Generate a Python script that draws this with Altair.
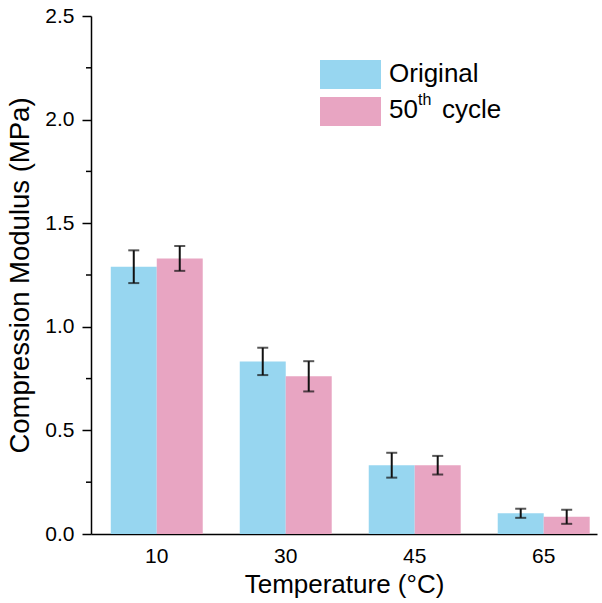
import altair as alt
import pandas as pd

temps = ["10", "30", "45", "65"]
series_names = ["Original", "50th cycle"]
original_mean = [1.29, 0.833, 0.332, 0.10]
original_err = [0.079, 0.066, 0.06, 0.022]
cycle_mean = [1.33, 0.761, 0.332, 0.083]
cycle_err = [0.06, 0.073, 0.045, 0.034]
colors = ["#97D6F0", "#E8A5C2"]
y_ticks_major = [0.0, 0.5, 1.0, 1.5, 2.0, 2.5]
y_ticks_minor = [0.25, 0.75, 1.25, 1.75, 2.25]

FONT = "Liberation Sans"

rows = []
for s, means, errs in [(series_names[0], original_mean, original_err),
                       (series_names[1], cycle_mean, cycle_err)]:
    for t, m, e in zip(temps, means, errs):
        rows.append({"temp": t, "series": s, "value": m, "err": e})
df = pd.DataFrame(rows)

base = alt.Chart(df).transform_calculate(
    low="datum.value - datum.err", high="datum.value + datum.err"
)

x_axis = alt.Axis(title="Temperature (°C)", labelAngle=0, ticks=False,
                  labelPadding=11, titlePadding=5, labelFontSize=21,
                  titleFontSize=26, titleFontWeight="normal")
x_scale = alt.Scale(paddingInner=0.287, paddingOuter=0.105, align=0.73)
x_enc = alt.X("temp:N", sort=temps, scale=x_scale, axis=x_axis)
xoff = alt.XOffset("series:N", sort=series_names,
                   scale=alt.Scale(paddingInner=0, paddingOuter=0))
color = alt.Color("series:N", sort=series_names,
                  scale=alt.Scale(domain=series_names, range=colors), legend=None)

y_scale = alt.Scale(domain=[0, 2.5], nice=False, zero=True)
y_axis = alt.Axis(values=y_ticks_major, format=".1f", tickSize=9, labelPadding=8,
                  title="Compression Modulus (MPa)", titlePadding=10,
                  labelFontSize=21, titleFontSize=27.5, titleFontWeight="normal")


def yq(field):
    return alt.Y(field, scale=y_scale, axis=y_axis)


bars = base.mark_bar().encode(x=x_enc, xOffset=xoff, y=yq("value:Q"), color=color)

err_color = "#111111"
rules = base.mark_rule(color=err_color, strokeWidth=2).encode(
    x=x_enc, xOffset=xoff, y=yq("low:Q"), y2="high:Q"
)
caps_hi = base.mark_tick(color=err_color, thickness=2, size=11).encode(
    x=x_enc, xOffset=xoff, y=yq("high:Q")
)
caps_lo = base.mark_tick(color=err_color, thickness=2, size=11).encode(
    x=x_enc, xOffset=xoff, y=yq("low:Q")
)

minor = alt.Chart(pd.DataFrame({"v": y_ticks_minor})).mark_rule(
    color="black", strokeWidth=1.5
).encode(y=yq("v:Q"), x=alt.value(-5), x2=alt.value(0))

# custom legend
leg_o = alt.Chart(pd.DataFrame({"series": [series_names[0]]})).mark_rect().encode(
    x=alt.value(229), x2=alt.value(290), y=alt.value(44), y2=alt.value(73), color=color
)
leg_c = alt.Chart(pd.DataFrame({"series": [series_names[1]]})).mark_rect().encode(
    x=alt.value(229), x2=alt.value(290), y=alt.value(81), y2=alt.value(110), color=color
)
txt_o = alt.Chart(pd.DataFrame({"t": ["Original"]})).mark_text(
    align="left", baseline="alphabetic", fontSize=26, font=FONT, color="black"
).encode(x=alt.value(298), y=alt.value(66), text="t:N")
txt_50 = alt.Chart(pd.DataFrame({"t": ["50"]})).mark_text(
    align="left", baseline="alphabetic", fontSize=26, font=FONT, color="black"
).encode(x=alt.value(298), y=alt.value(102), text="t:N")
txt_th = alt.Chart(pd.DataFrame({"t": ["th"]})).mark_text(
    align="left", baseline="alphabetic", fontSize=16, font=FONT, color="black"
).encode(x=alt.value(327), y=alt.value(89), text="t:N")
txt_cy = alt.Chart(pd.DataFrame({"t": ["cycle"]})).mark_text(
    align="left", baseline="alphabetic", fontSize=26, font=FONT, color="black"
).encode(x=alt.value(351), y=alt.value(102), text="t:N")

chart = alt.layer(
    bars, rules, caps_hi, caps_lo, minor, leg_o, leg_c, txt_o, txt_50, txt_th, txt_cy
).properties(
    width=506, height=518,
    autosize=alt.AutoSizeParams(type="none"),
    padding={"left": 91, "top": 16, "right": 5, "bottom": 69},
    background="white",
).configure_axis(
    domainColor="black", domainWidth=1.5, tickColor="black", tickWidth=1.5,
    labelFont=FONT, titleFont=FONT, labelColor="black", titleColor="black",
    grid=False,
).configure_view(stroke=None)

chart.save("out.html", embed_options={"renderer": "svg", "actions": False})
